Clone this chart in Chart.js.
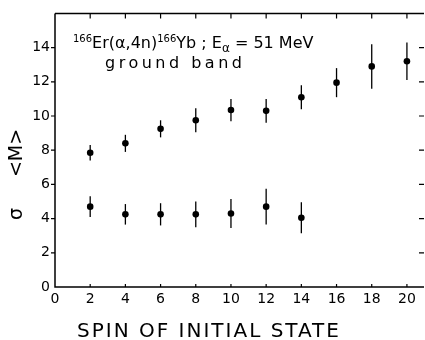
<!DOCTYPE html>
<html>
<head>
<meta charset="utf-8">
<script src="https://cdn.jsdelivr.net/npm/chart.js@4.4.1/dist/chart.umd.min.js"></script>
<style>
  html, body { margin: 0; padding: 0; background: #fff; }
  canvas { display: block; }
</style>
</head>
<body>
<canvas id="spinChart" width="425" height="340"></canvas>
<script>
// --- data ---
const upperSpins = [2, 4, 6, 8, 10, 12, 14, 16, 18, 20];
const upperMean  = [7.85, 8.4, 9.25, 9.75, 10.35, 10.3, 11.1, 11.95, 12.9, 13.2];
const upperErr   = [0.45, 0.5, 0.5, 0.7, 0.65, 0.7, 0.7, 0.85, 1.3, 1.1];

const lowerSpins = [2, 4, 6, 8, 10, 12, 14];
const lowerMean  = [4.7, 4.25, 4.25, 4.25, 4.3, 4.7, 4.05];
const lowerErr   = [0.6, 0.6, 0.65, 0.75, 0.85, 1.05, 0.9];

const xTicks = [0, 2, 4, 6, 8, 10, 12, 14, 16, 18, 20];
const yTicks = [0, 2, 4, 6, 8, 10, 12, 14];

const FONT = "'DejaVu Sans', sans-serif";

function toPoints(xs, ys, errs) {
    return xs.map((x, i) => ({ x: x, y: ys[i], err: errs[i] }));
}

// error bars, frame, ticks and the text labels
const decorations = {
    id: 'decorations',
    beforeDatasetsDraw(chart) {
        const { ctx, scales: { x, y } } = chart;
        ctx.save();
        ctx.strokeStyle = '#000';
        ctx.lineWidth = 1.3;
        chart.data.datasets.forEach(ds => {
            ds.data.forEach(p => {
                const px = x.getPixelForValue(p.x);
                ctx.beginPath();
                ctx.moveTo(px, y.getPixelForValue(p.y - p.err));
                ctx.lineTo(px, y.getPixelForValue(p.y + p.err));
                ctx.stroke();
            });
        });
        ctx.restore();
    },
    afterDraw(chart) {
        const { ctx, chartArea: { left, right, top, bottom }, scales: { x, y } } = chart;
        ctx.save();
        ctx.strokeStyle = '#000';
        ctx.lineWidth = 1.5;

        // frame (right side falls off the picture edge)
        ctx.beginPath();
        ctx.moveTo(left, top);
        ctx.lineTo(left, bottom);
        ctx.lineTo(right + 3, bottom);
        ctx.moveTo(left, top);
        ctx.lineTo(right + 3, top);
        ctx.stroke();

        ctx.lineWidth = 1.2;
        ctx.beginPath();
        xTicks.forEach(v => {
            if (v === 0) return;
            const px = x.getPixelForValue(v);
            ctx.moveTo(px, bottom);
            ctx.lineTo(px, bottom - 3);
            ctx.moveTo(px, top);
            ctx.lineTo(px, top + 5);
        });
        yTicks.forEach(v => {
            if (v === 0) return;
            const py = y.getPixelForValue(v);
            ctx.moveTo(left, py);
            ctx.lineTo(left - 4, py);
            ctx.moveTo(right + 3, py);
            ctx.lineTo(right - 2, py);
        });
        ctx.stroke();

        ctx.fillStyle = '#000';

        // x axis title
        ctx.font = `20px ${FONT}`;
        ctx.letterSpacing = '2px';
        ctx.textBaseline = 'alphabetic';
        ctx.textAlign = 'left';
        ctx.fillText('SPIN OF INITIAL STATE', 77, 337);
        ctx.letterSpacing = '0px';

        // y axis title, rotated
        ctx.save();
        ctx.translate(17, 0);
        ctx.rotate(-Math.PI / 2);
        ctx.font = `19px ${FONT}`;
        ctx.textAlign = 'center';
        ctx.textBaseline = 'middle';
        ctx.fillText('<M>', -153, 0);
        ctx.fillText('σ', -214, 0);
        ctx.restore();

        // reaction label with super/subscripts
        const pieces = [
            ['166', 10, -6],
            ['Er(α,4n)', 16, 0],
            ['166', 10, -6],
            ['Yb ; E', 16, 0],
            ['α', 12, 4],
            [' = 51 MeV', 16, 0]
        ];
        let cx = 73;
        ctx.textAlign = 'left';
        ctx.textBaseline = 'alphabetic';
        pieces.forEach(([txt, size, dy]) => {
            ctx.font = `${size}px ${FONT}`;
            ctx.fillText(txt, cx, 48 + dy);
            cx += ctx.measureText(txt).width;
        });
        ctx.font = `16px ${FONT}`;
        ctx.letterSpacing = '3.5px';
        ctx.fillText('ground band', 105, 68);
        ctx.letterSpacing = '0px';

        ctx.restore();
    }
};

new Chart(document.getElementById('spinChart'), {
    type: 'scatter',
    data: {
        datasets: [
            {
                label: 'upper',
                data: toPoints(upperSpins, upperMean, upperErr),
                pointRadius: 3.3,
                pointBackgroundColor: '#000',
                pointBorderWidth: 0
            },
            {
                label: 'lower',
                data: toPoints(lowerSpins, lowerMean, lowerErr),
                pointRadius: 3.3,
                pointBackgroundColor: '#000',
                pointBorderWidth: 0
            }
        ]
    },
    options: {
        responsive: false,
        animation: false,
        layout: { padding: { top: 11, right: 3, left: 0, bottom: 0 } },
        plugins: { legend: { display: false }, tooltip: { enabled: false } },
        scales: {
            x: {
                type: 'linear',
                min: 0,
                max: 20.8,
                afterBuildTicks: s => { s.ticks = xTicks.map(v => ({ value: v })); },
                afterFit: s => { s.height = 53; },
                grid: { display: false, drawTicks: false },
                border: { display: false },
                ticks: {
                    color: '#000',
                    font: { family: FONT, size: 14 },
                    padding: 4,
                    maxRotation: 0,
                    autoSkip: false
                }
            },
            y: {
                type: 'linear',
                min: 0,
                max: 16,
                afterBuildTicks: s => { s.ticks = yTicks.map(v => ({ value: v })); },
                afterFit: s => { s.width = 55; },
                grid: { display: false, drawTicks: false },
                border: { display: false },
                ticks: {
                    color: '#000',
                    font: { family: FONT, size: 14 },
                    padding: 5,
                    autoSkip: false
                }
            }
        }
    },
    plugins: [decorations]
});
</script>
</body>
</html>
